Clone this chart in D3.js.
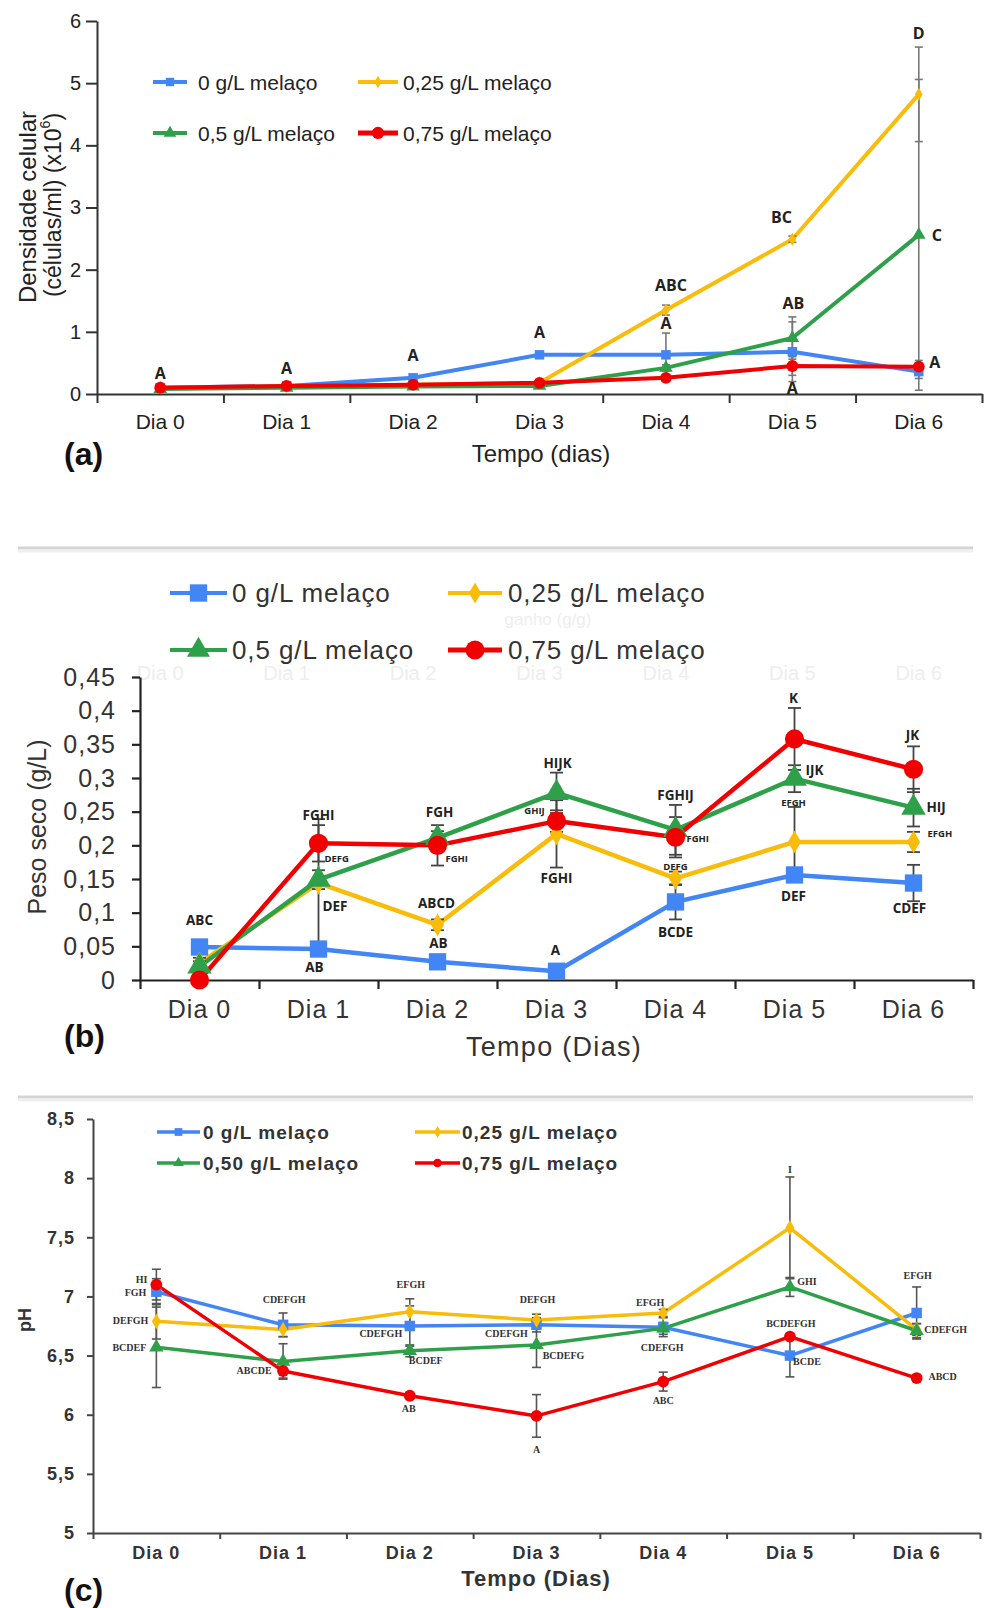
<!DOCTYPE html>
<html><head><meta charset="utf-8">
<script src="https://cdn.jsdelivr.net/npm/d3@7"></script>
<style>body{margin:0;background:#fff}svg{display:block}</style>
</head><body>
<svg id="chart" width="992" height="1608"></svg>
<script>
// ---------------- DATA ----------------
const days = ["Dia 0","Dia 1","Dia 2","Dia 3","Dia 4","Dia 5","Dia 6"];
const namesAB = ["0 g/L melaço","0,25 g/L melaço","0,5 g/L melaço","0,75 g/L melaço"];
const namesC  = ["0 g/L melaço","0,25 g/L melaço","0,50 g/L melaço","0,75 g/L melaço"];
const colors  = ["#4285F4","#F9BC0A","#2FA04A","#F00000"];

// (a) Densidade celular (x10^6 células/ml)
const densTicks  = [0,1,2,3,4,5,6];
const dens0      = [0.10,0.13,0.26,0.63,0.63,0.68,0.36];
const dens025    = [0.10,0.12,0.15,0.18,1.35,2.49,4.82];
const dens05     = [0.08,0.10,0.12,0.13,0.42,0.90,2.56];
const dens075    = [0.10,0.13,0.15,0.18,0.26,0.45,0.44];
const dens0Err   = [0.02,0.02,0.03,0.05,0.35,0.48,0.11];
const dens025Err = [0,0,0,0.02,0.08,0.05,0.76];
const dens05Err  = [0,0,0,0,0.05,0.34,2.50];
const dens075Err = [0,0,0,0,0.03,0.15,0.10];
// [day, value, letters, dx]
const densLetters = [
  [0,0.34,"A",0],[1,0.42,"A",0],[2,0.63,"A",0],[3,1.00,"A",0],
  [4,1.75,"ABC",5],[4,1.14,"A",0],[5,2.85,"BC",-11],[5,1.46,"AB",1],[5,0.10,"A",0],
  [6,5.80,"D",0],[6,2.56,"C",18],[6,0.51,"A",16]
];

// (b) Peso seco (g/L)
const dryTicks  = [0,0.05,0.1,0.15,0.2,0.25,0.3,0.35,0.4,0.45];
const dry0      = [0.049,0.046,0.027,0.013,0.116,0.156,0.144];
const dry025    = [0.025,0.144,0.082,0.217,0.151,0.205,0.205];
const dry05     = [0.020,0.149,0.211,0.278,0.223,0.299,0.256];
const dry075    = [0.000,0.203,0.200,0.236,0.212,0.358,0.313];
const dry0Err   = [0.003,0.003,0.004,0.003,0.026,0.010,0.027];
const dry025Err = [0.008,0.095,0.008,0.050,0.010,0.052,0.015];
const dry05Err  = [0.008,0.014,0.010,0.030,0.037,0.020,0.028];
const dry075Err = [0.000,0.027,0.030,0.016,0.030,0.046,0.034];
// [day, value, letters, dx, size, anchor]
const dryLetters = [
  [0,0.089,"ABC",0,"L","middle"],
  [1,0.245,"FGHI",0,"L","middle"],[1,0.180,"DEFG",6,"S","start"],[1,0.110,"DEF",4,"L","start"],[1,0.019,"AB",-4,"L","middle"],
  [2,0.250,"FGH",2,"L","middle"],[2,0.181,"FGHI",8,"S","start"],[2,0.114,"ABCD",-1,"L","middle"],[2,0.055,"AB",1,"L","middle"],
  [3,0.322,"HIJK",1,"L","middle"],[3,0.251,"GHIJ",-22,"S","middle"],[3,0.152,"FGHI",0,"L","middle"],[3,0.045,"A",-1,"L","middle"],
  [4,0.275,"FGHIJ",0,"L","middle"],[4,0.210,"FGHI",11,"S","start"],[4,0.169,"DEFG",0,"S","middle"],[4,0.071,"BCDE",0,"L","middle"],
  [5,0.419,"K",-1,"L","middle"],[5,0.312,"IJK",11,"L","start"],[5,0.263,"EFGH",-1,"S","middle"],[5,0.125,"DEF",-1,"L","middle"],
  [6,0.364,"JK",-1,"L","middle"],[6,0.257,"HIJ",13,"L","start"],[6,0.217,"EFGH",14,"S","start"],[6,0.107,"CDEF",-4,"L","middle"]
];

// (c) pH
const phTicks  = [5,5.5,6,6.5,7,7.5,8,8.5];
const ph0      = [7.04,6.76,6.75,6.76,6.74,6.50,6.86];
const ph025    = [6.79,6.72,6.87,6.80,6.86,7.58,6.72];
const ph05     = [6.57,6.45,6.54,6.59,6.73,7.08,6.71];
const ph075    = [7.10,6.37,6.16,5.99,6.28,6.66,6.31];
const ph0Err   = [0.11,0.10,0.17,0.06,0.08,0.18,0.22];
const ph025Err = [0.15,0.06,0.11,0.05,0.03,0.43,0.05];
const ph05Err  = [0.34,0.15,0.05,0.19,0.05,0.08,0.06];
const ph075Err = [0.13,0.06,0.01,0.18,0.08,0.02,0.01];
// [day, value, letters, dx, anchor]
const phLetters = [
  [0,7.14,"HI",-9,"end"],[0,7.03,"FGH",-10,"end"],[0,6.80,"DEFGH",-8,"end"],[0,6.57,"BCDEF",-10,"end"],
  [1,6.97,"CDEFGH",1,"middle"],[1,6.37,"ABCDE",-29,"middle"],
  [2,7.10,"EFGH",1,"middle"],[2,6.69,"CDEFGH",-29,"middle"],[2,6.46,"BCDEF",16,"middle"],[2,6.05,"AB",-1,"middle"],
  [3,6.97,"DEFGH",1,"middle"],[3,6.69,"CDEFGH",-30,"middle"],[3,6.50,"BCDEFG",27,"middle"],[3,5.71,"A",0,"middle"],
  [4,6.95,"EFGH",-13,"middle"],[4,6.57,"CDEFGH",-1,"middle"],[4,6.12,"ABC",0,"middle"],
  [5,8.07,"I",0,"middle"],[5,7.13,"GHI",17,"middle"],[5,6.77,"BCDEFGH",1,"middle"],[5,6.45,"BCDE",17,"middle"],
  [6,7.18,"EFGH",1,"middle"],[6,6.72,"CDEFGH",29,"middle"],[6,6.32,"ABCD",26,"middle"]
];

// ---------------- DRAWING ----------------
const svg = d3.select("#chart");
const fmt = d => String(d).replace(".", ",");
const shapes = [d3.symbolSquare, d3.symbolDiamond, d3.symbolTriangle, d3.symbolCircle];

function drawPanel(cfg){
  const g = svg.append("g");
  const x = d3.scaleBand().domain(days).range([cfg.x0, cfg.x1]).padding(0);
  const xc = i => x(days[i]) + x.bandwidth()/2;
  const xb = d3.scaleLinear().domain([0, days.length]).range([cfg.x0, cfg.x1]);
  const y = d3.scaleLinear().domain(cfg.domain).range([cfg.yb, cfg.yt]);

  const ya = g.append("g").attr("transform", `translate(${cfg.x0},0)`)
    .call(d3.axisLeft(y).tickValues(cfg.ticks).tickFormat(fmt)
      .tickSize(cfg.yTick).tickPadding(cfg.yPad).tickSizeOuter(0));
  ya.select(".domain").attr("stroke", cfg.axisColor).attr("stroke-width", cfg.axisW);
  ya.selectAll(".tick line").attr("stroke", cfg.axisColor).attr("stroke-width", cfg.axisW);
  ya.selectAll(".tick text").attr("fill", cfg.textColor).style("font", cfg.tickFont)
    .style("letter-spacing", cfg.tickLs);

  const xa = g.append("g").attr("transform", `translate(0,${cfg.yb})`)
    .call(d3.axisBottom(xb).tickValues(d3.range(days.length + 1)).tickFormat("")
      .tickSize(cfg.xTick).tickSizeOuter(0));
  xa.select(".domain").attr("stroke", cfg.axisColor).attr("stroke-width", cfg.axisW);
  xa.selectAll(".tick line").attr("stroke", cfg.axisColor).attr("stroke-width", cfg.axisW);

  const xl = g.append("g").attr("transform", `translate(0,${cfg.yb})`)
    .call(d3.axisBottom(x).tickSize(0).tickPadding(cfg.xPad));
  xl.select(".domain").remove();
  xl.selectAll(".tick text").attr("fill", cfg.textColor).style("font", cfg.xFont)
    .style("letter-spacing", cfg.tickLs);

  const line = d3.line().x((d,i) => xc(i)).y(d => y(d));
  cfg.series.forEach((s, k) => {
    g.append("path").datum(s.v).attr("d", line).attr("fill", "none")
      .attr("stroke", colors[k]).attr("stroke-width", cfg.lineW)
      .attr("stroke-linejoin", "round").attr("stroke-linecap", "round");
  });
  cfg.series.forEach((s, k) => {
    s.v.forEach((v, i) => {
      const e = s.e[i];
      if (!e) return;
      const eg = g.append("g").attr("stroke", cfg.errColor).attr("stroke-width", cfg.errW);
      const cx = xc(i);
      eg.append("line").attr("x1", cx).attr("x2", cx).attr("y1", y(v - e)).attr("y2", y(v + e));
      [v - e, v + e].forEach(t => eg.append("line").attr("x1", cx - cfg.cap/2).attr("x2", cx + cfg.cap/2)
        .attr("y1", y(t)).attr("y2", y(t)));
    });
  });
  cfg.series.forEach((s, k) => {
    g.selectAll(null).data(s.v).join("path")
      .attr("transform", (d,i) => `translate(${xc(i)},${y(d)})`)
      .attr("d", d3.symbol().type(shapes[k]).size(cfg.mSize[k]))
      .attr("fill", colors[k]);
  });
  cfg.letters.forEach(L => {
    const big = cfg.letterBig ? (L[4] !== "S") : true;
    const anchor = cfg.anchorIdx != null ? L[cfg.anchorIdx] : "middle";
    g.append("text").attr("x", xc(L[0]) + L[3]).attr("y", y(L[1]))
      .attr("text-anchor", anchor).attr("dominant-baseline", "central")
      .attr("fill", cfg.letterColor)
      .style("font", big ? cfg.letterFont : cfg.letterFontS)
      .text(L[2]);
  });
  cfg.legend.forEach((p, k) => {
    const lg = g.append("g");
    lg.append("line").attr("x1", p[0]).attr("x2", p[1]).attr("y1", p[3]).attr("y2", p[3])
      .attr("stroke", colors[k]).attr("stroke-width", cfg.legLineW[k]);
    lg.append("path").attr("transform", `translate(${(p[0]+p[1])/2},${p[3]})`)
      .attr("d", d3.symbol().type(shapes[k]).size(cfg.legSize[k])).attr("fill", colors[k]);
    lg.append("text").attr("x", p[2]).attr("y", p[3]).attr("dominant-baseline", "central")
      .attr("fill", cfg.textColor).style("font", cfg.legFont).style("letter-spacing", cfg.legLs)
      .text(cfg.names[k]);
  });
  g.append("text").attr("x", cfg.xTitle[0]).attr("y", cfg.xTitle[1]).attr("text-anchor", "middle")
    .attr("dominant-baseline", "central").attr("fill", cfg.textColor)
    .style("font", cfg.titleFont).style("letter-spacing", cfg.titleLs).text(cfg.xTitleText);
  g.append("text").attr("x", cfg.tag[0]).attr("y", cfg.tag[1]).attr("dominant-baseline", "central")
    .attr("fill", "#111").style("font", "bold 32px 'Liberation Sans', Arial, sans-serif").text(cfg.tagText);
  return g;
}

// separators
[548, 1097].forEach(yy => {
  svg.append("line").attr("x1", 18).attr("x2", 973).attr("y1", yy).attr("y2", yy)
    .attr("stroke", "#d4d4d4").attr("stroke-width", 3);
  svg.append("line").attr("x1", 18).attr("x2", 973).attr("y1", yy + 3).attr("y2", yy + 3)
    .attr("stroke", "#efefef").attr("stroke-width", 3);
});

// faint ghost artefacts in panel (b)
const ghost = svg.append("g").attr("fill", "#eeeeee").style("font", "20px 'Liberation Sans', Arial, sans-serif");
const gx = d3.scaleBand().domain(days).range([97, 982]);
days.forEach(d => ghost.append("text").attr("x", gx(d) + gx.bandwidth()/2).attr("y", 673)
  .attr("text-anchor", "middle").attr("dominant-baseline", "central").text(d));
ghost.append("text").attr("x", 548).attr("y", 619).attr("text-anchor", "middle")
  .attr("dominant-baseline", "central").style("font-size", "17px").text("ganho (g/g)");

// Panel (a)
const pa = drawPanel({
  x0: 97, x1: 982, yt: 21, yb: 394, domain: [0, 6], ticks: densTicks,
  yTick: 11, yPad: 5, xTick: 9, xPad: 20,
  axisColor: "#333", axisW: 2, textColor: "#222",
  tickFont: "20px 'Liberation Sans', Arial, sans-serif", tickLs: "0px",
  xFont: "21px 'Liberation Sans', Arial, sans-serif",
  lineW: 4,
  series: [{v: dens0, e: dens0Err}, {v: dens025, e: dens025Err}, {v: dens05, e: dens05Err}, {v: dens075, e: dens075Err}],
  errColor: "#777", errW: 1.6, cap: 8,
  mSize: [90, 50, 80, 110],
  letters: densLetters, letterColor: "#222",
  letterFont: "bold 16px 'Open Sans', sans-serif", letterFontS: "bold 16px 'Open Sans', sans-serif",
  legend: [[153,187,198,82],[358,398,403,82],[153,187,198,133],[358,398,403,133]],
  legLineW: [4,4,4,5], legSize: [70, 45, 70, 120],
  legFont: "21px 'Liberation Sans', Arial, sans-serif", legLs: "0px", names: namesAB,
  xTitle: [541, 453], xTitleText: "Tempo (dias)", titleFont: "24px 'Liberation Sans', Arial, sans-serif", titleLs: "0px",
  tag: [64, 454], tagText: "(a)"
});
pa.append("text").attr("transform", "translate(27,207) rotate(-90)")
  .attr("text-anchor", "middle").attr("dominant-baseline", "central").attr("fill", "#222")
  .style("font", "24px 'Liberation Sans', Arial, sans-serif").text("Densidade celular");
const ytA2 = pa.append("text").attr("transform", "translate(53,205) rotate(-90)")
  .attr("text-anchor", "middle").attr("dominant-baseline", "central").attr("fill", "#222")
  .style("font", "23px 'Liberation Sans', Arial, sans-serif");
ytA2.append("tspan").text("(células/ml) (x10");
ytA2.append("tspan").attr("dy", -8).style("font-size", "14px").text("6");
ytA2.append("tspan").attr("dy", 8).text(")");

// Panel (b)
const pb = drawPanel({
  x0: 140, x1: 973, yt: 677, yb: 980, domain: [0, 0.45], ticks: dryTicks,
  yTick: 8, yPad: 16, xTick: 9, xPad: 20,
  axisColor: "#222", axisW: 2.2, textColor: "#333",
  tickFont: "25px 'Liberation Sans', Arial, sans-serif", tickLs: "1px",
  xFont: "25px 'Liberation Sans', Arial, sans-serif",
  lineW: 4.5,
  series: [{v: dry0, e: dry0Err}, {v: dry025, e: dry025Err}, {v: dry05, e: dry05Err}, {v: dry075, e: dry075Err}],
  errColor: "#444", errW: 1.8, cap: 13,
  mSize: [300, 150, 260, 290],
  letters: dryLetters, letterColor: "#222", letterBig: true, anchorIdx: 5,
  letterFont: "bold 13.5px 'Open Sans', sans-serif", letterFontS: "bold 9.5px 'Open Sans', sans-serif",
  legend: [[170,227,232,593],[448,502,508,593],[170,227,232,650],[448,502,508,650]],
  legLineW: [4,4,4,5], legSize: [300, 130, 230, 280],
  legFont: "26px 'Liberation Sans', Arial, sans-serif", legLs: "0.9px", names: namesAB,
  xTitle: [554, 1047], xTitleText: "Tempo  (Dias)", titleFont: "27px 'Liberation Sans', Arial, sans-serif", titleLs: "1.3px",
  tag: [64, 1036], tagText: "(b)"
});
pb.append("text").attr("transform", "translate(37,827) rotate(-90)")
  .attr("text-anchor", "middle").attr("dominant-baseline", "central").attr("fill", "#333")
  .style("font", "25px 'Liberation Sans', Arial, sans-serif").text("Peso seco (g/L)");

// Panel (c)
const pc = drawPanel({
  x0: 93, x1: 980, yt: 1119, yb: 1533, domain: [5, 8.5], ticks: phTicks,
  yTick: 6, yPad: 12, xTick: 6, xPad: 13,
  axisColor: "#444", axisW: 2, textColor: "#333",
  tickFont: "bold 18px 'Liberation Sans', Arial, sans-serif", tickLs: "1px",
  xFont: "bold 18px 'Liberation Sans', Arial, sans-serif",
  lineW: 3.5,
  series: [{v: ph0, e: ph0Err}, {v: ph025, e: ph025Err}, {v: ph05, e: ph05Err}, {v: ph075, e: ph075Err}],
  errColor: "#555", errW: 1.6, cap: 9,
  mSize: [110, 70, 90, 110],
  letters: phLetters, letterColor: "#333", anchorIdx: 4,
  letterFont: "bold 10px 'Liberation Serif', serif", letterFontS: "bold 10px 'Liberation Serif', serif",
  legend: [[157,200,203,1132],[415,460,462,1132],[157,200,203,1163],[415,460,462,1163]],
  legLineW: [3.5,3.5,3.5,3.5], legSize: [60, 40, 50, 60],
  legFont: "bold 19px 'Liberation Sans', Arial, sans-serif", legLs: "1px", names: namesC,
  xTitle: [536, 1578], xTitleText: "Tempo (Dias)", titleFont: "bold 22px 'Liberation Sans', Arial, sans-serif", titleLs: "1px",
  tag: [64, 1590], tagText: "(c)"
});
pc.append("text").attr("transform", "translate(25,1320) rotate(-90)")
  .attr("text-anchor", "middle").attr("dominant-baseline", "central").attr("fill", "#333")
  .style("font", "bold 18px 'Liberation Sans', Arial, sans-serif").text("pH");
</script>
</body></html>
